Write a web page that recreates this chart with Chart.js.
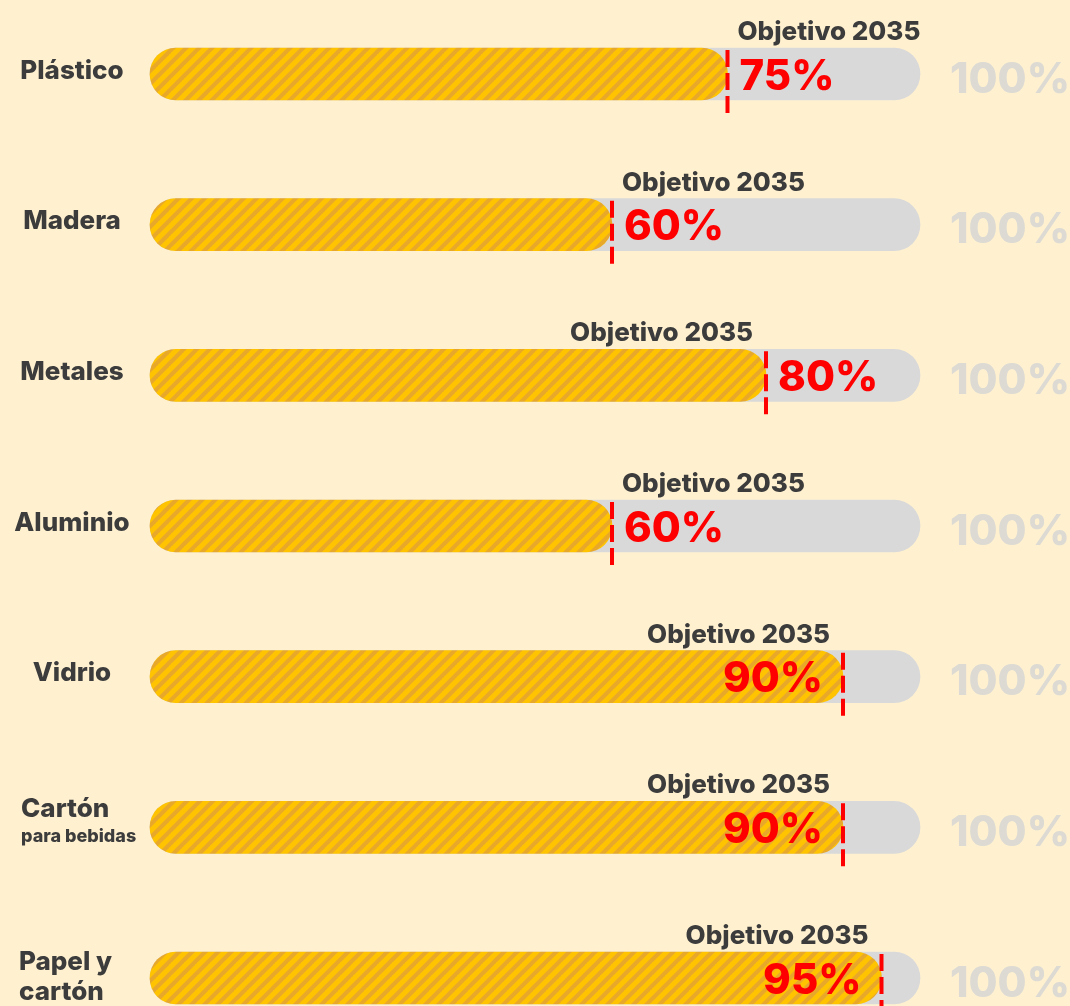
<!DOCTYPE html>
<html>
<head>
<meta charset="utf-8">
<script src="https://cdn.jsdelivr.net/npm/chart.js@4"></script>
<style>
  html, body { margin: 0; padding: 0; background: #fff1d0; }
  canvas { display: block; }
</style>
</head>
<body>
<canvas id="goalsChart" width="1070" height="1006"></canvas>
<script>
// Recycling targets for packaging, 2035
var materials = ['Plástico', 'Madera', 'Metales', 'Aluminio', 'Vidrio', 'Cartón', ['Papel y', 'cartón']];
var materialNotes = ['', '', '', '', '', 'para bebidas', ''];
var targets = [75, 60, 80, 60, 90, 90, 95];
var fullScale = [100, 100, 100, 100, 100, 100, 100];
var goalTitle = 'Objetivo 2035';
var maxLabel = '100%';

var FONT = 'Inter, "DejaVu Sans", sans-serif';
var DARK = '#3c3c3c';
var RED = '#ff0000';

// diagonal yellow hatch for the target bars
function makeHatch() {
    var s = 13;
    var tile = document.createElement('canvas');
    tile.width = s;
    tile.height = s;
    var t = tile.getContext('2d');
    t.fillStyle = '#ffc300';
    t.fillRect(0, 0, s, s);
    t.strokeStyle = '#e8a92a';
    t.lineWidth = 4.2;
    t.beginPath();
    for (var k = 0; k <= 2; k++) {
        t.moveTo(-1, k * s + 1);
        t.lineTo(k * s + 1, -1);
    }
    t.stroke();
    return t.createPattern(tile, 'repeat');
}

// category names, goal markers and percentage texts
var goalMarkers = {
    id: 'goalMarkers',
    afterDatasetsDraw: function(chart) {
        var ctx = chart.ctx;
        var xs = chart.scales.x;
        var ys = chart.scales.y;
        var meta = chart.getDatasetMeta(1);
        var trackEnd = xs.getPixelForValue(100);
        ctx.save();

        targets.forEach(function(value, i) {
            var cy = ys.getPixelForValue(i);
            var half = meta.data[i].height / 2;
            var top = cy - half;
            var bottom = cy + half;
            var xLine = xs.getPixelForValue(value);

            // dashed goal line
            ctx.strokeStyle = RED;
            ctx.lineWidth = 4;
            ctx.setLineDash([17, 6]);
            ctx.beginPath();
            ctx.moveTo(xLine, top + 2);
            ctx.lineTo(xLine, bottom + 16);
            ctx.stroke();
            ctx.setLineDash([]);

            // "Objetivo 2035"
            ctx.font = '800 26px ' + FONT;
            ctx.fillStyle = DARK;
            ctx.textBaseline = 'alphabetic';
            var tw = ctx.measureText(goalTitle).width;
            if (xLine + 10 + tw <= trackEnd + 12) {
                ctx.textAlign = 'left';
                ctx.fillText(goalTitle, xLine + 10, top - 8);
            } else {
                ctx.textAlign = 'right';
                ctx.fillText(goalTitle, xLine - 13, top - 8);
            }

            // percentage in red
            var pct = value + '%';
            ctx.font = '800 42px ' + FONT;
            ctx.fillStyle = RED;
            ctx.textBaseline = 'middle';
            var pw = ctx.measureText(pct).width;
            if (xLine + 12 + pw <= trackEnd - 8) {
                ctx.textAlign = 'left';
                ctx.fillText(pct, xLine + 12, cy + 3);
            } else {
                ctx.textAlign = 'right';
                ctx.fillText(pct, xLine - 20, cy + 3);
            }

            // faint 100% at the end of the track
            ctx.font = '800 42px ' + FONT;
            ctx.fillStyle = '#dcdad3';
            ctx.textAlign = 'left';
            ctx.fillText(maxLabel, trackEnd + 30, cy + 6);

            // material name on the left
            var label = materials[i];
            var lines = Array.isArray(label) ? label : [label];
            var note = materialNotes[i];
            ctx.fillStyle = DARK;
            ctx.textBaseline = 'middle';
            if (lines.length === 1 && !note) {
                ctx.font = '800 26px ' + FONT;
                ctx.textAlign = 'center';
                ctx.fillText(lines[0], 72, cy - 3);
            } else if (note) {
                ctx.textAlign = 'left';
                ctx.font = '800 26px ' + FONT;
                ctx.fillText(lines[0], 21, cy - 18);
                ctx.font = '800 18px ' + FONT;
                ctx.fillText(note, 21, cy + 9);
            } else {
                ctx.textAlign = 'left';
                ctx.font = '800 26px ' + FONT;
                ctx.fillText(lines[0], 19, cy - 16);
                ctx.fillText(lines[1], 19, cy + 14);
            }
        });
        ctx.restore();
    }
};

var ctx = document.getElementById('goalsChart').getContext('2d');
var goalsChart = new Chart(ctx, {
    type: 'bar',
    data: {
        labels: materials,
        datasets: [{
            label: 'Total',
            data: fullScale,
            backgroundColor: '#d9d9d9',
            order: 2
        }, {
            label: goalTitle,
            data: targets,
            backgroundColor: makeHatch(),
            order: 1
        }]
    },
    options: {
        indexAxis: 'y',
        responsive: false,
        animation: false,
        layout: {
            padding: { left: 150, right: 150, top: 74, bottom: 28 }
        },
        datasets: {
            bar: {
                grouped: false,
                barThickness: 52,
                borderRadius: 26,
                borderSkipped: false,
                clip: false
            }
        },
        scales: {
            x: { display: false, min: 0, max: 100 },
            y: { display: false, offset: false }
        },
        plugins: {
            legend: { display: false },
            tooltip: { enabled: false }
        }
    },
    plugins: [goalMarkers]
});
</script>
</body>
</html>
